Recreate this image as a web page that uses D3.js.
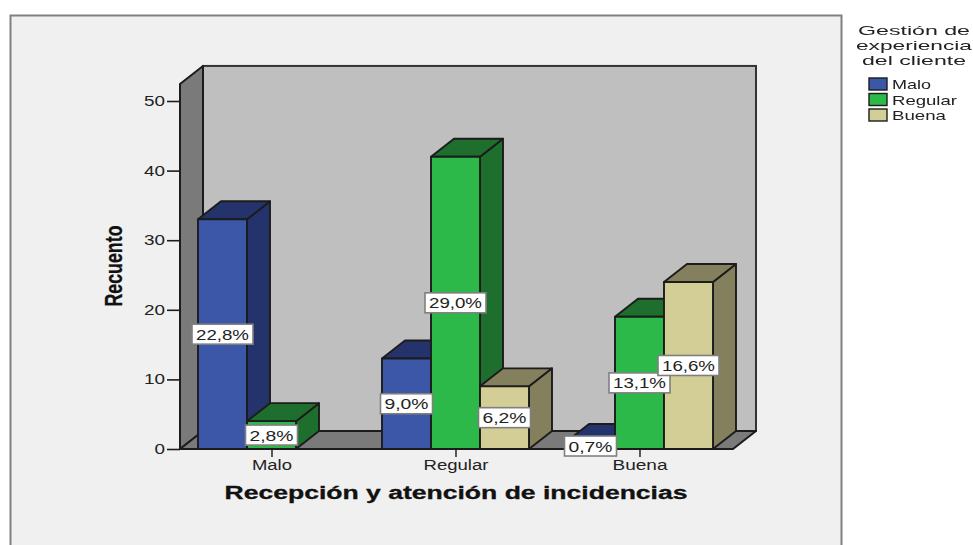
<!DOCTYPE html>
<html><head><meta charset="utf-8">
<script src="https://cdn.jsdelivr.net/npm/d3@7"></script>
<style>html,body{margin:0;padding:0;background:#fff}svg{display:block;filter:blur(.55px)}text{font-family:"Liberation Sans",Arial,sans-serif}</style>
</head><body><svg id="c" width="973" height="545"></svg>
<script>
const categories = ["Malo","Regular","Buena"];
const seriesNames = ["Malo","Regular","Buena"];
const malo = [33,13,1];
const regular = [4,42,19];
const buena = [null,9,24];
const maloPct = ["22,8%","9,0%","0,7%"];
const regularPct = ["2,8%","29,0%","13,1%"];
const buenaPct = [null,"6,2%","16,6%"];
const yTicks = [0,10,20,30,40,50];
const colors = ["#3d57a8","#2db84a","#d3cd96"];
const sideColors = ["#24336b","#1e6e2e","#847f5c"];

const values=[malo,regular,buena], pcts=[maloPct,regularPct,buenaPct];
const svg=d3.select("#c");
const stroke="#1c1c1c";
const y=d3.scaleLinear().domain([0,50]).range([449,101]);
const x0=d3.scaleBand().domain(categories).range([180,732]);
const x1=d3.scaleBand().domain(seriesNames).range([18,165]);
const dx=23,dy=18,wallTop=y(52.45),left=180,right=733;
const pts=a=>a.map(p=>p.join(",")).join(" ");

svg.append("rect").attr("x",10.5).attr("y",15.5).attr("width",831).attr("height",540)
  .attr("fill","#f0f0f0").attr("stroke","#808080").attr("stroke-width",2);

// walls and floor
svg.append("rect").attr("x",left+dx).attr("y",wallTop-dy).attr("width",right-left).attr("height",y(0)-wallTop)
  .attr("fill","#bfbfbf").attr("stroke","#333").attr("stroke-width",2);
svg.append("polygon").attr("points",pts([[left,y(0)],[left,wallTop],[left+dx,wallTop-dy],[left+dx,y(0)-dy]]))
  .attr("fill","#7a7a7a").attr("stroke",stroke).attr("stroke-width",2).attr("stroke-linejoin","round");
svg.append("polygon").attr("points",pts([[left,y(0)],[left+dx,y(0)-dy],[right+dx,y(0)-dy],[right,y(0)]]))
  .attr("fill","#7a7a7a").attr("stroke",stroke).attr("stroke-width",2).attr("stroke-linejoin","round");

// bars
categories.forEach((c,i)=>{
  seriesNames.forEach((s,j)=>{
    const v=values[j][i]; if(v==null) return;
    const a=x0(c)+x1(s), w=x1.bandwidth(), b=a+w, t=y(v), z=y(0);
    const g=svg.append("g").attr("stroke",stroke).attr("stroke-width",1.9).attr("stroke-linejoin","round");
    g.append("polygon").attr("points",pts([[b,z],[b,t],[b+dx,t-dy],[b+dx,z-dy]])).attr("fill",sideColors[j]);
    g.append("polygon").attr("points",pts([[a,t],[a+dx,t-dy],[b+dx,t-dy],[b,t]])).attr("fill",sideColors[j]);
    g.append("rect").attr("x",a).attr("y",t).attr("width",w).attr("height",z-t).attr("fill",colors[j]);
  });
});

// axes
const yAxis=d3.axisLeft(y).tickValues(yTicks).tickSize(13).tickSizeOuter(0).tickPadding(2);
const gy=svg.append("g").attr("transform",`translate(${left},0)`).call(yAxis);
gy.select(".domain").remove();
gy.selectAll("line").attr("stroke",stroke).attr("stroke-width",1.6);
gy.selectAll("text").attr("font-size",14).attr("fill","#222")
  .attr("textLength",d=>d===0?10.5:21).attr("lengthAdjust","spacingAndGlyphs");
const xAxis=d3.axisBottom(x0).tickSize(8).tickSizeOuter(0).tickPadding(3);
const gx=svg.append("g").attr("transform",`translate(0,${y(0)})`).call(xAxis);
gx.select(".domain").remove();
gx.selectAll("line").attr("stroke","#333").attr("stroke-width",1.6);
gx.selectAll("text").attr("font-size",14).attr("fill","#222")
  .attr("textLength",(d,i)=>[40,65,55][i]).attr("lengthAdjust","spacingAndGlyphs");
svg.append("line").attr("x1",left).attr("x2",right).attr("y1",y(0)).attr("y2",y(0)).attr("stroke",stroke).attr("stroke-width",2);

// value labels
categories.forEach((c,i)=>{
  seriesNames.forEach((s,j)=>{
    const v=values[j][i]; if(v==null) return;
    const cx=x0(c)+x1(s)+x1.bandwidth()/2, cy=(y(v)+y(0))/2-(v===1?-0.5:0);
    const label=pcts[j][i], tw=label.length>4?53:44;
    svg.append("rect").attr("x",cx-tw/2-4).attr("y",cy-10).attr("width",tw+8).attr("height",20)
      .attr("fill","#fff").attr("stroke","#7f7f7f").attr("stroke-width",1.6);
    svg.append("text").attr("x",cx).attr("y",cy+5.5).attr("text-anchor","middle")
      .attr("font-size",15).attr("fill","#222").attr("textLength",tw).attr("lengthAdjust","spacingAndGlyphs").text(label);
  });
});

// axis titles
svg.append("text").attr("x",456).attr("y",499).attr("text-anchor","middle").attr("font-size",17.5).attr("font-weight","bold")
  .attr("fill","#111").attr("stroke","#111").attr("stroke-width",.3).attr("textLength",463).attr("lengthAdjust","spacingAndGlyphs").text("Recepción y atención de incidencias");
svg.append("text").attr("transform","translate(122,266) rotate(-90)").attr("text-anchor","middle").attr("font-size",24).attr("font-weight","bold")
  .attr("fill","#111").attr("stroke","#111").attr("stroke-width",.3).attr("textLength",81).attr("lengthAdjust","spacingAndGlyphs").text("Recuento");

// legend
[["Gestión de",30,112],["experiencia",45,116],["del cliente",60,104]].forEach(([t,ly,tl])=>{
  svg.append("text").attr("x",914).attr("y",ly+5).attr("text-anchor","middle").attr("font-size",13).attr("fill","#222")
    .attr("textLength",tl).attr("lengthAdjust","spacingAndGlyphs").text(t);
});
const legendY=d3.scalePoint().domain(seriesNames).range([84,115]);
seriesNames.forEach((s,j)=>{
  svg.append("rect").attr("x",869).attr("y",legendY(s)-6).attr("width",18).attr("height",12)
    .attr("fill",colors[j]).attr("stroke",stroke).attr("stroke-width",1.4);
  svg.append("text").attr("x",892).attr("y",legendY(s)+5).attr("font-size",13).attr("fill","#222")
    .attr("textLength",[39,65,54][j]).attr("lengthAdjust","spacingAndGlyphs").text(s);
});
</script></body></html>
